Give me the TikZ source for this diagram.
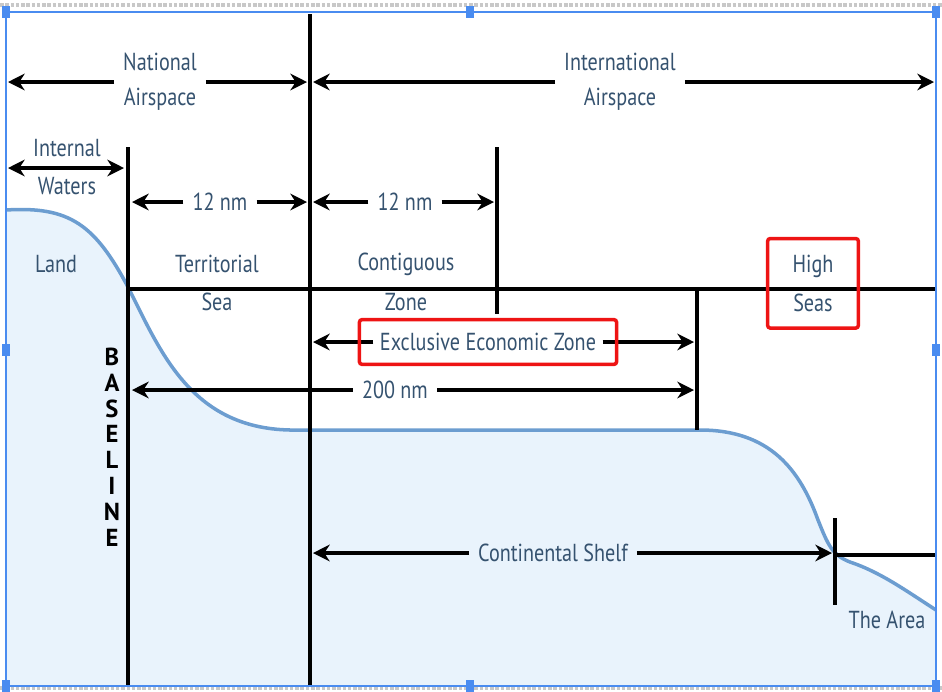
\documentclass[tikz,border=0pt]{standalone}
\usepackage{fontspec}
\setmainfont{PT Sans}
\newfontfamily\zonefont{PT Sans}[FakeStretch=0.82]
\usetikzlibrary{arrows.meta, positioning, fit}
\definecolor{zonetext}{HTML}{35526F}
\definecolor{seafill}{HTML}{E9F3FC}
\definecolor{coastblue}{HTML}{6C9DD0}
\definecolor{boxred}{HTML}{EE1414}
\definecolor{framesel}{HTML}{4A8CF0}
\definecolor{rulegray}{HTML}{C8C8C8}

\tikzset{
  zone/.style={text=zonetext, font=\zonefont\fontsize{14}{20}\selectfont, inner sep=1pt, align=center},
  gaplabel/.style={zone, inner xsep=5pt},
  arr/.style={line width=2pt, -{Stealth[length=9.5pt, width=9.5pt]}},
  twoarr/.style={line width=2pt, {Stealth[length=9.5pt, width=9.5pt]}-{Stealth[length=9.5pt, width=9.5pt]}},
  limit/.style={line width=1.9pt, black},
  redbox/.style={draw=boxred, line width=2pt, rounded corners=1.5pt},
}

\begin{document}
\begin{tikzpicture}[x=0.02cm, y=-0.02cm]
  \useasboundingbox (0,0) rectangle (942,691);

  % Sea bed and land profile
  \def\coastpath{(6,210) .. controls (70,206) and (95,225) .. (128,287)
    .. controls (160,350) and (190,428) .. (290,430) -- (700,430)
    .. controls (770,430) and (800,470) .. (818,520)
    .. controls (828,545) and (832,555) .. (850,562)
    .. controls (880,572) and (905,590) .. (936,610)}
  \fill[seafill] \coastpath -- (936,686) -- (6,686) -- cycle;
  \draw[coastblue, line width=2pt] \coastpath;

  % Zone limits
  \foreach \x/\ya/\yb in {128/147/686, 310/14/686, 497/147/314, 697/289/430, 835/518/605} {
    \draw[limit] (\x,\ya) -- (\x,\yb);
  }
  \draw[limit] (128,289) -- (936,289);
  \draw[limit] (835,555) -- (936,555);

  % Airspace
  \node[gaplabel] (natl) at (160,82) {National\\Airspace};
  \coordinate (natlL) at (8,82);
  \coordinate (natlR) at (307,82);
  \draw[arr] (natl) -- (natlL);
  \draw[arr] (natl) -- (natlR);

  \node[gaplabel] (intl) at (620,82) {International\\Airspace};
  \coordinate (intlL) at (313,82);
  \coordinate (intlR) at (934,82);
  \draw[arr] (intl) -- (intlL);
  \draw[arr] (intl) -- (intlR);

  % Internal waters
  \node[zone] (intw) at (67,148) {Internal};
  \node[zone] (waters) at (67,186) {Waters};
  \coordinate (iwL) at (8,168);
  \coordinate (iwR) at (124,168);
  \draw[twoarr] (iwL) -- (iwR);

  % 12 nm distances
  \node[gaplabel] (tsnm) at (220,202) {12 nm};
  \coordinate (tsL) at (132,202);
  \coordinate (tsR) at (307,202);
  \draw[arr] (tsnm) -- (tsL);
  \draw[arr] (tsnm) -- (tsR);

  \node[gaplabel] (cznm) at (405,202) {12 nm};
  \coordinate (czL) at (313,202);
  \coordinate (czR) at (494,202);
  \draw[arr] (cznm) -- (czL);
  \draw[arr] (cznm) -- (czR);

  % Zone names
  \node[zone] (land) at (56,264) {Land};
  \node[zone] (terr) at (217,264) {Territorial};
  \node[zone] (sea) at (217,302) {Sea};
  \node[zone] (contig) at (406,264) {Contiguous};
  \node[zone] (czone) at (406,302) {Zone};
  \node[zone] (high) at (813,266) {High};
  \node[zone] (seas) at (813,303) {Seas};
  \node[redbox, fit=(high)(seas), inner xsep=13pt, inner ysep=8pt] (hsbox) {};

  % Exclusive economic zone
  \node[zone, inner xsep=3.5pt] (eez) at (488,342) {Exclusive Economic Zone};
  \coordinate (eezL) at (313,342);
  \coordinate (eezR) at (694,342);
  \draw[arr] (eez) -- (eezL);
  \draw[arr] (eez) -- (eezR);
  \node[redbox, fit=(eez), inner xsep=8pt, inner ysep=6.5pt] (eezbox) {};

  % 200 nm
  \node[gaplabel] (nm200) at (395,390) {200 nm};
  \coordinate (nmL) at (132,390);
  \coordinate (nmR) at (694,390);
  \draw[arr] (nm200) -- (nmL);
  \draw[arr] (nm200) -- (nmR);

  % Continental shelf and the Area
  \node[gaplabel] (shelf) at (553,553) {Continental Shelf};
  \coordinate (shelfL) at (313,553);
  \coordinate (shelfR) at (832,553);
  \draw[arr] (shelf) -- (shelfL);
  \draw[arr] (shelf) -- (shelfR);
  \node[zone] (area) at (887,620) {The Area};

  % Baseline
  \node[font=\bfseries\fontsize{14}{14.7}\selectfont, align=center, inner sep=0pt] (baseline) at (112,447) {B\\A\\S\\E\\L\\I\\N\\E};

  % Selection frame
  \draw[rulegray, densely dotted, line width=2pt] (0,5) -- (942,5);
  \draw[rulegray, densely dotted, line width=2pt] (0,688) -- (942,688);
  \draw[framesel, line width=0.7pt] (6,12) rectangle (936,686);
  \foreach \x/\y in {6/12, 470/12, 936/12, 6/350, 936/350, 6/686, 470/686, 936/686} {
    \fill[framesel] (\x-4,\y-6) rectangle (\x+4,\y+6);
  }
\end{tikzpicture}
\end{document}
